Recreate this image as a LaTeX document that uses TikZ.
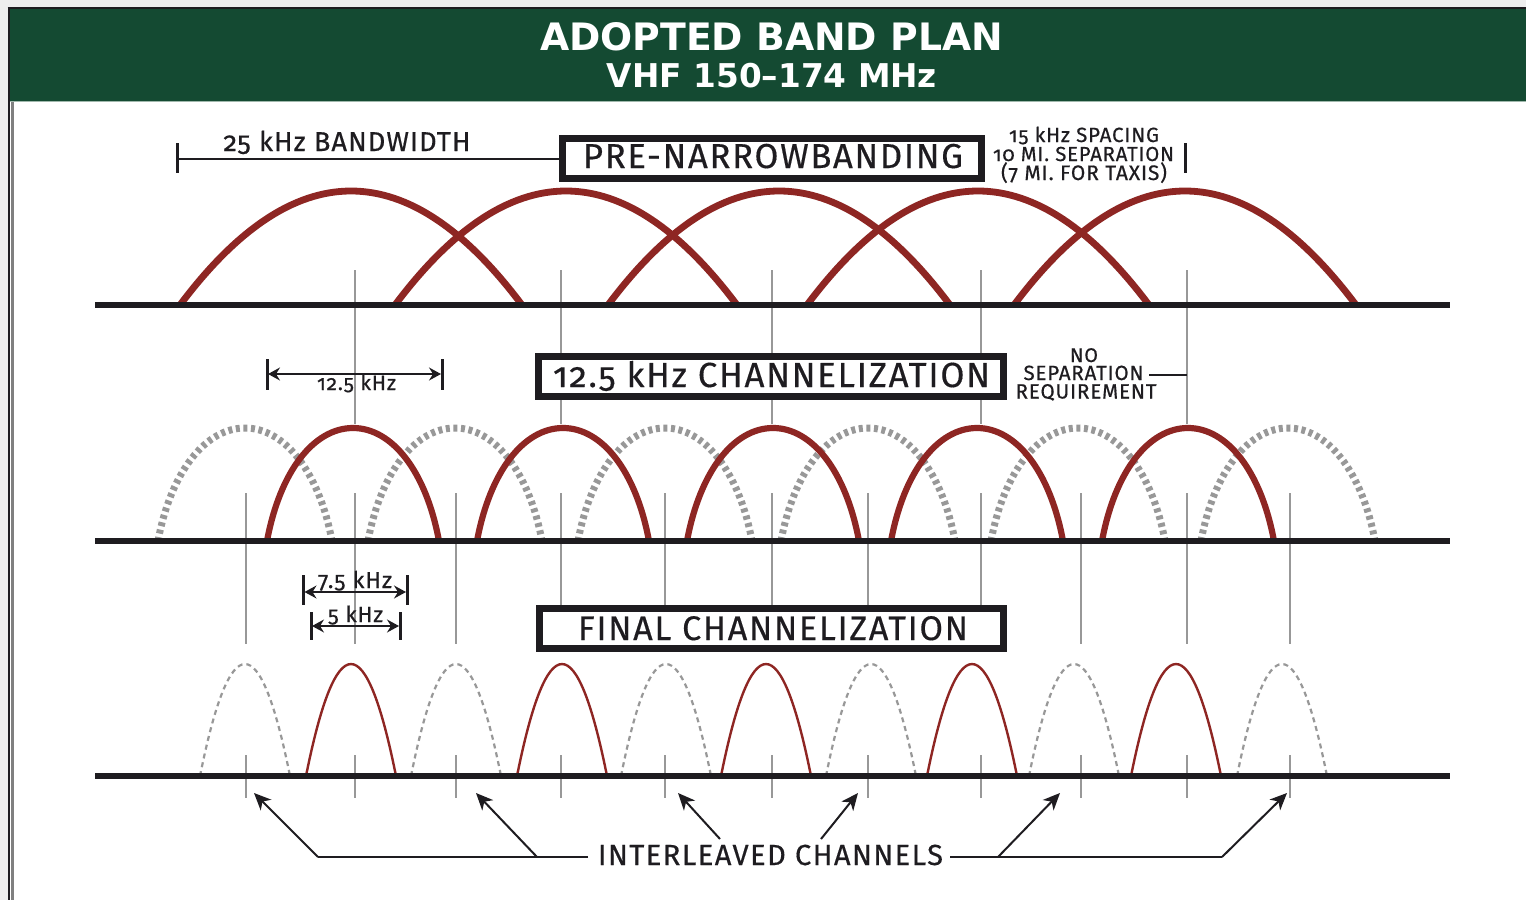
\documentclass[tikz,border=0pt]{standalone}
\usepackage{fontspec}
\usepackage{graphicx}
\setmainfont{Fira Sans}[Numbers=OldStyle]
\newfontfamily\boxfont{Fira Sans}[Numbers=OldStyle,LetterSpace=5,FakeBold=0.4]
\newfontfamily\smallfont{Fira Sans}[Numbers=OldStyle,LetterSpace=4,FakeBold=0.5]
\newfontfamily\titlefont{DejaVu Sans}
\usetikzlibrary{arrows.meta}
\definecolor{bandgreen}{RGB}{20,74,50}
\definecolor{arcred}{RGB}{142,38,35}
\definecolor{tickgrey}{RGB}{152,152,152}
\definecolor{ink}{RGB}{30,28,32}
\definecolor{marginc}{RGB}{238,238,238}
\definecolor{paleline}{RGB}{160,184,172}
\newcommand\fitw[2]{\resizebox{#1pt}{!}{#2}}
\begin{document}
\begin{tikzpicture}[x=1pt,y=-1pt,
  baseln/.style={line width=6pt, ink},
  vgrey/.style={line width=2.6pt, tickgrey},
  bigarc/.style={line width=6.8pt, arcred},
  midred/.style={line width=6.2pt, arcred},
  middot/.style={line width=7pt, tickgrey, dash pattern=on 4pt off 3.6pt},
  smallred/.style={line width=2.4pt, arcred},
  smalldash/.style={line width=2.2pt, tickgrey, dash pattern=on 5pt off 4pt},
  labbox/.style={draw=ink, fill=white, line width=7pt, minimum height=40pt, inner sep=0pt},
  txt/.style={anchor=base, inner sep=0pt, text=ink},
  dimtick/.style={line width=3pt, ink},
  dimarr/.style={line width=1.4pt, ink, {Stealth[length=12pt,width=13pt,inset=4pt]}-{Stealth[length=12pt,width=13pt,inset=4pt]}},
  conn/.style={line width=2pt, ink},
  connarr/.style={line width=2pt, ink, -{Stealth[length=17pt,width=15pt,inset=5pt]}}
]
\useasboundingbox (0,0) rectangle (1526,900);
% page and frame
\fill[white] (0,0) rectangle (1526,900);
\fill[marginc] (0,0) rectangle (1526,7.5);
\fill[marginc] (0,0) rectangle (7.5,900);
\fill[bandgreen] (9.5,9) rectangle (1526,101);
\draw[paleline, line width=1.2pt] (9.5,101.6) -- (1526,101.6);
\draw[ink, line width=2.3pt] (7.5,8) -- (1526,8);
\draw[ink, line width=2pt] (8.5,8) -- (8.5,900);
\draw[gray, line width=3pt] (12.5,102) -- (12.5,900);

% title
\node[anchor=base, inner sep=0pt, text=white] (title) at (771.5,50) {\fitw{463}{\titlefont\bfseries ADOPTED BAND PLAN}};
\node[anchor=base, inner sep=0pt, text=white] (subtitle) at (772,87) {\fitw{330}{\titlefont\bfseries VHF 150–174 MHz}};

% grey vertical guide lines
\foreach \x in {355,561,772,981,1187}
  \draw[vgrey] (\x,270) -- (\x,424);
\foreach \x in {246,355,456,561,665,772,868,981,1081,1187,1290} {
  \draw[vgrey] (\x,493) -- (\x,644);
  \draw[vgrey] (\x,755) -- (\x,798);
}

% row 1 : pre-narrowbanding (parabolic arcs)
\foreach \c in {351,566,779,978,1185}
  \draw[bigarc] (\c-171,305) .. controls (\c-57,153) and (\c+57,153) .. (\c+171,305);
\draw[baseln] (95,305) -- (1450,305);

% row 2 : 12.5 kHz
\foreach \c in {245,455,665,868,1078,1288}
  \draw[middot] (\c-87,541) .. controls (\c-74,471) and (\c-39,428) .. (\c,428) .. controls (\c+39,428) and (\c+74,471) .. (\c+87,541);
\foreach \c in {353,563,773,977,1188}
  \draw[midred] (\c-86,541) .. controls (\c-73,471) and (\c-39,428) .. (\c,428) .. controls (\c+39,428) and (\c+73,471) .. (\c+86,541);
\draw[baseln] (95,541) -- (1450,541);

% row 3 : final (parabolic arcs)
\foreach \c in {245,456,666,871,1074,1282}
  \draw[smalldash] (\c-45,776) .. controls (\c-15,626.7) and (\c+15,626.7) .. (\c+45,776);
\foreach \c in {351,562,766,972,1176}
  \draw[smallred] (\c-45,776) .. controls (\c-15,626.7) and (\c+15,626.7) .. (\c+45,776);
\draw[baseln] (95,776) -- (1450,776);

% 25 kHz bandwidth bracket
\coordinate (bwl) at (177,159);
\coordinate (bwr) at (562,159);
\draw[dimtick] (177,143) -- (177,173);
\draw[line width=2.4pt, ink] (bwl) -- (bwr);
\node[txt] (bwtxt) at (347,151) {\fitw{247}{\smallfont 25 kHz BANDWIDTH}};

% boxes
\node[labbox, minimum width=419pt] (pre) at (772,158.5) {};
\node[txt] (pretxt) at (773,168) {\fitw{380}{\boxfont PRE-NARROWBANDING}};
\node[labbox, minimum width=465pt] (mid) at (771,376.5) {};
\node[txt] (midtxt) at (771.5,387) {\fitw{437}{\boxfont 12.5 kHz CHANNELIZATION}};
\node[labbox, minimum width=464pt] (fin) at (771.5,628.5) {};
\node[txt] (fintxt) at (773,640) {\fitw{390}{\boxfont FINAL CHANNELIZATION}};

% spacing note
\node[txt] (sp1) at (1084,142) {\fitw{150}{\smallfont 15 kHz SPACING}};
\node[txt] (sp2) at (1083.5,161) {\fitw{181}{\smallfont 10 MI. SEPARATION}};
\node[txt] (sp3) at (1084,180) {\fitw{166}{\smallfont (7 MI. FOR TAXIS)}};
\draw[dimtick] (1185,143) -- (1185,173);

% no separation note
\node[txt] (ns1) at (1084,362) {\fitw{28}{\smallfont NO}};
\node[txt] (ns2) at (1083.5,380) {\fitw{120}{\smallfont SEPARATION}};
\node[txt] (ns3) at (1086,398.5) {\fitw{141}{\smallfont REQUIREMENT}};
\coordinate (nsl) at (1149,375);
\coordinate (nsr) at (1187,375);
\draw[line width=2pt, ink] (nsl) -- (nsr);

% 12.5 kHz dimension
\coordinate (d1l) at (268,374);
\coordinate (d1r) at (441,374);
\draw[dimtick] (267,359) -- (267,390);
\draw[dimtick] (442,359) -- (442,390);
\draw[dimarr] (d1l) -- (d1r);
\node[txt] (d1txt) at (356.5,390) {\fitw{79}{\smallfont 12.5 kHz}};

% 7.5 kHz dimension
\coordinate (d2l) at (304.5,592);
\coordinate (d2r) at (406,592);
\draw[dimtick] (303.5,575) -- (303.5,605);
\draw[dimtick] (407,575) -- (407,605);
\draw[dimarr] (d2l) -- (d2r);
\node[txt] (d2txt) at (355,588) {\fitw{74}{\smallfont 7.5 kHz}};

% 5 kHz dimension
\coordinate (d3l) at (312,626);
\coordinate (d3r) at (399,626);
\draw[dimtick] (311,612) -- (311,640);
\draw[dimtick] (400,612) -- (400,640);
\draw[dimarr] (d3l) -- (d3r);
\node[txt] (d3txt) at (355.5,622) {\fitw{55}{\smallfont 5 kHz}};

% interleaved channels
\node[txt] (il) at (770.5,865) {\fitw{345}{\boxfont INTERLEAVED CHANNELS}};
\coordinate (ll) at (588,857);
\coordinate (jl1) at (318,857);
\coordinate (jl2) at (537,857);
\coordinate (a1) at (254,793);
\coordinate (a2) at (476,793);
\draw[conn] (ll) -- (jl1);
\draw[connarr] (jl1) -- (a1);
\draw[connarr] (jl2) -- (a2);
\coordinate (m1s) at (720,839);
\coordinate (m1e) at (678,793);
\coordinate (m2s) at (821,839);
\coordinate (m2e) at (858,793);
\draw[connarr] (m1s) -- (m1e);
\draw[connarr] (m2s) -- (m2e);
\coordinate (rr) at (950,857);
\coordinate (jr1) at (998,857);
\coordinate (jr2) at (1222,857);
\coordinate (a5) at (1060,793);
\coordinate (a6) at (1287,793);
\draw[conn] (rr) -- (jr2);
\draw[connarr] (jr1) -- (a5);
\draw[connarr] (jr2) -- (a6);
\end{tikzpicture}
\end{document}
